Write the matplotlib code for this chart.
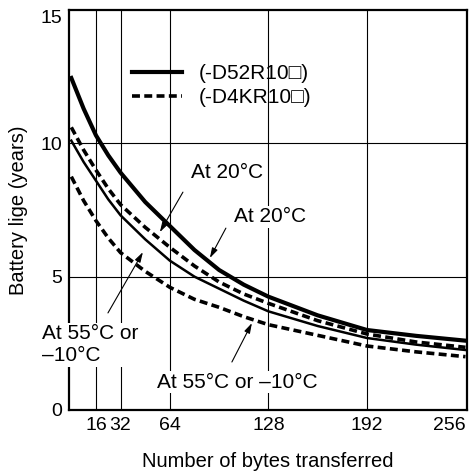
import matplotlib
matplotlib.use("Agg")
import matplotlib.pyplot as plt

# ---- data ----
n_bytes = [0, 8, 16, 24, 32, 48, 64, 80, 96, 112, 128, 160, 192, 224, 256]
d52_20 = [12.45, 11.3, 10.3, 9.55, 8.9, 7.8, 6.9, 6.0, 5.25, 4.7, 4.25, 3.55, 3.0, 2.78, 2.6]
d4k_20 = [10.6, 9.75, 9.0, 8.3, 7.7, 6.85, 6.1, 5.4, 4.8, 4.35, 4.0, 3.35, 2.85, 2.55, 2.35]
d52_55 = [10.1, 9.3, 8.6, 7.9, 7.3, 6.4, 5.6, 5.0, 4.55, 4.1, 3.7, 3.15, 2.7, 2.45, 2.25]
d4k_55 = [8.75, 7.85, 7.1, 6.45, 5.9, 5.2, 4.6, 4.15, 3.85, 3.5, 3.2, 2.8, 2.4, 2.18, 2.0]

x_ticks = [16, 32, 64, 128, 192, 256]
y_ticks = [0, 5, 10, 15]
legend_labels = ["(-D52R10\u25a1)", "(-D4KR10\u25a1)"]

plt.rcParams["font.family"] = ["Liberation Sans", "DejaVu Sans"]

fig = plt.figure(figsize=(4.71, 4.74), dpi=100)
ax = fig.add_axes([69 / 471, 64 / 474, 398 / 471, 400 / 474])
ax.set_xlim(-1.5, 257)
ax.set_ylim(0, 15)

for xv in x_ticks[:-1]:
    ax.axvline(xv, color="black", lw=0.8, zorder=1)
for yv in [5, 10]:
    ax.axhline(yv, color="black", lw=0.8, zorder=1)

dash = (0, (2.2, 1.2))
ax.plot(n_bytes, d52_20, color="black", lw=3.0, zorder=3, label=legend_labels[0])
ax.plot(n_bytes, d52_55, color="black", lw=1.8, zorder=3)
ax.plot(n_bytes, d4k_20, color="black", lw=2.6, ls=dash, zorder=3, label=legend_labels[1])
ax.plot(n_bytes, d4k_55, color="black", lw=2.6, ls=dash, zorder=3)

ax.set_xticks(x_ticks)
ax.set_yticks(y_ticks)
ax.tick_params(length=0, pad=5, labelsize=14)
ax.get_xticklabels()[-1].set_ha("right")
ax.get_yticklabels()[-1].set_va("top")

for side in ["left", "bottom", "top", "right"]:
    ax.spines[side].set_linewidth(1.6)

ax.set_xlabel("Number of bytes transferred", fontsize=14.5, labelpad=13)
ax.set_ylabel("Battery lige (years)", fontsize=14.5, labelpad=9)

leg = ax.legend(loc="upper left", bbox_to_anchor=(0.158, 0.865), frameon=False,
                fontsize=15, handlelength=2.4, handletextpad=0.8, labelspacing=0.25,
                borderaxespad=0, borderpad=0)

bb = dict(facecolor="white", edgecolor="none", pad=1)
arr = dict(arrowstyle="-|>,head_length=0.6,head_width=0.18", lw=0.8, color="black",
           shrinkA=0, shrinkB=0)
fs = 15

ax.text(101, 8.92, "At 20\u00b0C", fontsize=fs, ha="center", va="center", bbox=bb, zorder=4)
ax.annotate("", xy=(57.5, 6.67), xytext=(72.5, 8.17), arrowprops=arr, zorder=4)

ax.text(129, 7.25, "At 20\u00b0C", fontsize=fs, ha="center", va="center", bbox=bb, zorder=4)
ax.annotate("", xy=(90, 5.7), xytext=(100.4, 6.82), arrowprops=arr, zorder=4)

ax.text(-19.1, 2.44, "At 55\u00b0C or\n\u201310\u00b0C", fontsize=fs, ha="left", va="center",
        linespacing=1.2, bbox=bb, zorder=4, clip_on=False)
ax.annotate("", xy=(46.5, 5.92), xytext=(23.8, 3.64), arrowprops=arr, zorder=4)

ax.text(55.6, 1.05, "At 55\u00b0C or \u201310\u00b0C", fontsize=fs, ha="left", va="center",
        bbox=bb, zorder=4)
ax.annotate("", xy=(117.3, 3.26), xytext=(104.3, 1.8), arrowprops=arr, zorder=4)

fig.savefig("out.png", dpi=100, facecolor="white")
